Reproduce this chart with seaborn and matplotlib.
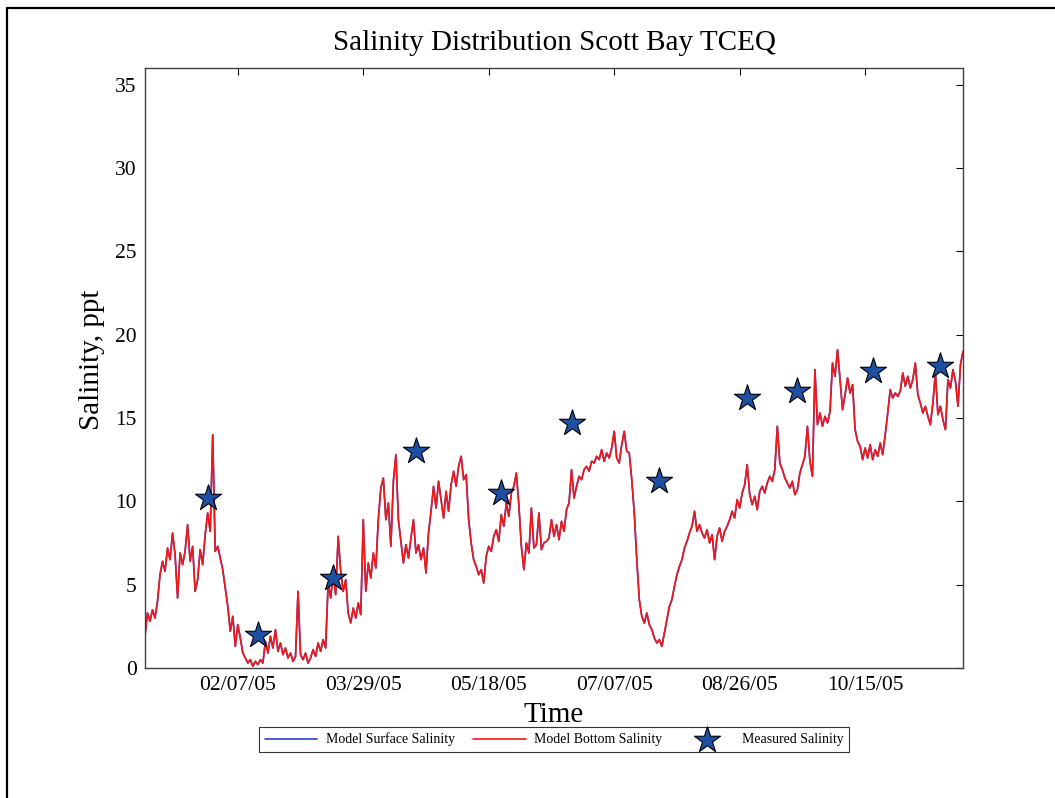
import pandas as pd
import matplotlib
matplotlib.use('Agg')
import matplotlib.pyplot as plt
import matplotlib.dates as mdates
from matplotlib.lines import Line2D
import seaborn as sns

# daily model readings from 01/01/05 (ppt)
start_date = '2005-01-01'
bottom_salinity = [
    1.9, 3.3, 2.8, 3.5, 3.0, 4.0, 5.6, 6.4, 5.8, 7.2,
    6.5, 8.1, 6.8, 4.2, 6.9, 6.2, 7.0, 8.6, 6.4, 7.3,
    4.6, 5.3, 7.1, 6.2, 8.0, 9.3, 8.2, 14.0, 7.0, 7.3,
    6.6, 5.9, 4.8, 3.7, 2.2, 3.1, 1.3, 2.6, 1.8, 0.9,
    0.6, 0.3, 0.5, 0.1, 0.4, 0.2, 0.5, 0.3, 1.6, 0.9,
    1.9, 1.2, 2.3, 1.0, 1.5, 0.8, 1.2, 0.6, 0.9, 0.4,
    0.7, 4.6, 0.8, 0.5, 0.9, 0.3, 0.6, 1.1, 0.7, 1.5,
    1.0, 1.7, 1.2, 5.1, 4.2, 5.6, 4.4, 7.9, 5.8, 4.6,
    5.3, 3.3, 2.7, 3.6, 3.0, 3.9, 3.2, 8.9, 4.6, 6.3,
    5.4, 6.9, 6.0, 8.9, 10.8, 11.4, 8.9, 9.9, 7.3, 11.2,
    12.8, 8.9, 7.6, 6.3, 7.4, 6.6, 7.8, 8.9, 6.9, 7.4,
    6.5, 7.2, 5.7, 8.1, 9.4, 10.9, 9.6, 11.2, 10.1, 9.0,
    10.6, 9.4, 11.0, 11.8, 10.9, 12.1, 12.7, 11.3, 11.6, 8.9,
    7.5, 6.5, 6.1, 5.6, 5.9, 5.1, 6.7, 7.3, 7.0, 7.9,
    8.3, 7.6, 9.2, 8.5, 9.9, 9.1, 10.5, 10.9, 11.7, 9.8,
    7.3, 5.9, 7.5, 6.9, 9.6, 7.2, 7.4, 9.3, 7.1, 7.5,
    7.6, 7.8, 8.9, 7.9, 8.6, 7.7, 8.8, 8.2, 9.5, 9.9,
    11.9, 10.2, 10.9, 11.5, 11.3, 11.9, 12.1, 11.8, 12.4, 12.3,
    12.7, 12.5, 13.1, 12.4, 12.9, 12.6, 13.2, 14.2, 12.6, 12.3,
    13.4, 14.2, 13.0, 12.9, 11.3, 9.3, 6.5, 4.1, 3.1, 2.7,
    3.3, 2.6, 2.3, 1.8, 1.5, 1.7, 1.3, 2.1, 2.9, 3.7,
    4.1, 4.9, 5.6, 6.1, 6.5, 7.2, 7.6, 8.1, 8.5, 9.4,
    8.2, 8.6, 8.1, 7.8, 8.3, 7.5, 8.0, 6.5, 7.9, 8.4,
    7.6, 8.2, 8.5, 8.9, 9.4, 9.0, 10.1, 9.6, 10.5, 11.0,
    12.2, 10.4, 9.8, 10.3, 9.5, 10.6, 10.9, 10.5, 11.1, 11.5,
    11.2, 11.9, 14.5, 12.3, 11.9, 11.4, 11.1, 10.8, 11.2, 10.4,
    10.7, 11.7, 12.2, 12.7, 14.5, 12.4, 11.5, 17.9, 14.6, 15.3,
    14.5, 15.1, 14.7, 15.4, 18.3, 17.5, 19.1, 17.3, 15.5, 16.4,
    17.4, 16.5, 17.0, 14.3, 13.6, 13.3, 12.5, 13.2, 12.6, 13.4,
    12.5, 13.1, 12.7, 13.5, 12.8, 14.0, 15.3, 16.7, 16.2, 16.5,
    16.3, 16.6, 17.7, 16.9, 17.5, 16.8, 17.3, 18.3, 16.4, 15.9,
    15.3, 15.7, 15.1, 14.6, 15.9, 17.7, 15.2, 15.7, 14.9, 14.3,
    17.3, 16.8, 17.9, 17.2, 15.7, 18.2, 19.0,
]
# surface trace lies right under the bottom trace in the picture
surface_salinity = list(bottom_salinity)

measured_dates = ['2005-01-26', '2005-02-15', '2005-03-17', '2005-04-19',
                  '2005-05-23', '2005-06-20', '2005-07-25', '2005-08-29',
                  '2005-09-18', '2005-10-18', '2005-11-14']
measured_salinity = [10.2, 2.0, 5.4, 13.0, 10.5, 14.7, 11.2, 16.2, 16.6, 17.8, 18.1]

tick_dates = ['2005-02-07', '2005-03-29', '2005-05-18',
              '2005-07-07', '2005-08-26', '2005-10-15']
y_ticks = [0, 5, 10, 15, 20, 25, 30, 35]

sns.set_style('white')
plt.rcParams['font.family'] = ['Liberation Serif', 'DejaVu Serif']
plt.rcParams['text.color'] = 'black'
plt.rcParams['axes.labelcolor'] = 'black'

fig = plt.figure(figsize=(10.55, 7.98), dpi=100)
ax = fig.add_axes([0.1374, 0.1629, 0.7754, 0.7519])

model = pd.DataFrame({
    'time': pd.date_range(start_date, periods=len(bottom_salinity), freq='D'),
    'surface': surface_salinity,
    'bottom': bottom_salinity,
})
measured = pd.DataFrame({'time': pd.to_datetime(measured_dates),
                         'salinity': measured_salinity})

sns.lineplot(data=model, x='time', y='surface', color='#2b3fd0', lw=1.2,
             label='Model Surface Salinity', ax=ax)
sns.lineplot(data=model, x='time', y='bottom', color='#f01818', lw=1.2,
             label='Model Bottom Salinity', ax=ax)
sns.scatterplot(data=measured, x='time', y='salinity', marker='*', s=390,
                color='#1f4fa3', edgecolor='black', linewidth=0.8,
                label='Measured Salinity', zorder=5, ax=ax)

ax.set_xlim(pd.Timestamp('2005-01-01'), pd.Timestamp('2005-11-23'))
ax.set_ylim(0, 36)
ax.set_xticks(pd.to_datetime(tick_dates))
ax.xaxis.set_major_formatter(mdates.DateFormatter('%m/%d/%y'))
ax.set_yticks(y_ticks)
ax.tick_params(direction='in', top=True, right=True, length=5, width=0.8,
               labelsize=15.5, pad=6, colors='black')
for sp in ax.spines.values():
    sp.set_color('#404040')
    sp.set_linewidth(1.0)

ax.set_title('Salinity Distribution Scott Bay TCEQ', fontsize=21, pad=13)
ax.set_xlabel('Time', fontsize=21, labelpad=5)
ax.set_ylabel('Salinity, ppt', fontsize=21)
ax.yaxis.set_label_coords(-0.049, 0.513)

leg = ax.legend(loc='upper center', bbox_to_anchor=(0.5, -0.087), ncol=3,
                frameon=True, fancybox=False, edgecolor='black', fontsize=10,
                handlelength=3.8, handletextpad=0.6, columnspacing=1.3,
                borderpad=0.4)
leg.get_frame().set_linewidth(0.8)

# outer frame lines (left and top)
fig.add_artist(Line2D([7 / 1055, 7 / 1055], [0, 1 - 8 / 798],
                      transform=fig.transFigure, color='black', lw=1.6))
fig.add_artist(Line2D([7 / 1055, 1], [1 - 8 / 798, 1 - 8 / 798],
                      transform=fig.transFigure, color='black', lw=1.6))

fig.savefig('out.png', dpi=100)
